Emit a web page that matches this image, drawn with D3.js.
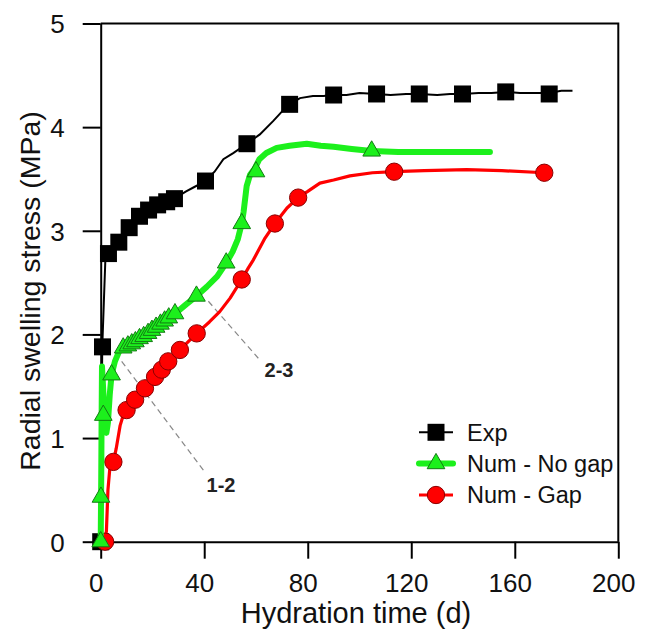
<!DOCTYPE html>
<html><head><meta charset="utf-8">
<script src="https://cdn.jsdelivr.net/npm/d3@7"></script>
<style>body{margin:0;background:#fff}svg{display:block}</style>
</head><body>
<svg id="c" width="650" height="633"></svg>
<script>
// ---- data ----
const xTicks = [0, 40, 80, 120, 160, 200];
const xMinorTicks = [20, 60, 100, 140, 180];
const yTicks = [0, 1, 2, 3, 4, 5];
const yMinorTicks = [0.5, 1.5, 2.5, 3.5, 4.5];
const seriesNames = ["Exp", "Num - No gap", "Num - Gap"];
const xTitle = "Hydration time (d)";
const yTitle = "Radial swelling stress (MPa)";

const expLine = [[0,0],[0.3,1.0],[0.6,1.88],[1.2,2.3],[1.8,2.72],[2.5,2.78],[4,2.81],[7,2.89],[11,3.03],[15,3.14],[18.5,3.2],[22,3.25],[25.5,3.28],[28.5,3.31],[33,3.38],[36,3.42],[40.5,3.48],[44,3.57],[47.4,3.69],[51.2,3.75],[56.5,3.84],[61.5,3.93],[66.7,4.06],[70,4.15],[73,4.22],[77,4.28],[82,4.30],[86,4.30],[90,4.31],[95,4.31],[100,4.33],[106.6,4.32],[112,4.31],[118,4.32],[123.1,4.32],[130,4.31],[135,4.32],[139.8,4.32],[146,4.33],[151,4.33],[156.5,4.34],[162,4.33],[168,4.33],[173.3,4.33],[178,4.35],[182.3,4.35]];
const expMarkers = [[0,0],[0.7,1.88],[3,2.78],[7,2.89],[11,3.03],[15,3.14],[18.5,3.2],[22,3.25],[25.5,3.28],[28.5,3.31],[40.5,3.48],[56.5,3.84],[73,4.22],[90,4.31],[106.6,4.32],[123.1,4.32],[139.8,4.32],[156.5,4.34],[173.3,4.32]];

const noGapLine = [[0,0],[0.2,0.6],[0.35,1.2],[0.5,1.69],[0.9,1.5],[1.5,1.2],[2.2,1.05],[2.8,1.15],[3.5,1.42],[4.2,1.61],[5.5,1.74],[7,1.83],[8.7,1.88],[11.7,1.91],[15,1.96],[18.3,2.01],[21.4,2.07],[24.7,2.13],[28.7,2.2],[33,2.29],[37,2.37],[41,2.46],[45,2.56],[48.5,2.69],[51,2.8],[53,2.92],[54.5,3.07],[55.2,3.18],[56.4,3.43],[57.7,3.54],[59.5,3.6],[61.3,3.69],[64,3.75],[68,3.8],[73,3.82],[79.6,3.84],[85,3.82],[90,3.81],[97,3.79],[104.7,3.77],[115,3.76],[130,3.76],[150.4,3.76]];
const noGapMarkers = [[0,0],[0.1,0.43],[1,1.22],[4.2,1.61],[8.7,1.87],[10.5,1.89],[12,1.91],[13.4,1.93],[15,1.96],[16.6,1.98],[18.3,2.01],[19.8,2.04],[21.4,2.07],[23.1,2.1],[24.7,2.13],[26.3,2.16],[28.7,2.2],[37,2.37],[48.5,2.69],[54.5,3.07],[60,3.57],[104.7,3.77]];

const gapLine = [[1.5,0],[2.2,0.1],[2.8,0.5],[3.5,0.7],[4.9,0.77],[6,0.9],[7.5,1.12],[8.7,1.22],[10,1.27],[13.3,1.37],[17.1,1.48],[21,1.59],[23.6,1.66],[26.1,1.74],[30.6,1.85],[37.1,2.01],[42,2.12],[46,2.22],[50,2.35],[54.5,2.53],[57,2.64],[59,2.72],[63.5,2.93],[67.3,3.07],[72,3.22],[76.3,3.32],[80,3.38],[84.7,3.46],[90,3.49],[96.3,3.53],[105,3.56],[113.4,3.57],[125,3.58],[141.4,3.59],[155,3.58],[171.4,3.56]];
const gapMarkers = [[1.7,0],[4.9,0.77],[10,1.27],[13.3,1.37],[17.1,1.48],[21,1.59],[23.6,1.66],[26.1,1.74],[30.6,1.85],[37.1,2.01],[54.5,2.53],[67.3,3.07],[76.3,3.32],[113.4,3.57],[171.4,3.56]];

const annotLabels = ["1-2", "2-3"];
const annotFrom = [[8.1,1.74],[41.6,2.32]];
const annotTo = [[40.6,0.66],[60.9,1.77]];
const annotAt = [[46.5,0.55],[68.9,1.66]];

// ---- chart ----
const svg = d3.select("#c");
const FONT = "'Liberation Sans', Arial, sans-serif";
const x = d3.scaleLinear().domain([0, 200]).range([100.7, 618.3]);
const y = d3.scaleLinear().domain([0, 5]).range([541.7, 23.5]);
const X0 = x.range()[0], X1 = x.range()[1], Y0 = y.range()[0], Y1 = y.range()[1];

const gx = svg.append("g").attr("transform", `translate(0,${Y0})`);
gx.call(d3.axisBottom(x).tickValues(xMinorTicks).tickSize(9).tickSizeOuter(0).tickFormat(""));
gx.call(d3.axisBottom(x).tickValues(xTicks).tickSize(17).tickSizeOuter(0).tickFormat(d3.format("d")));
gx.selectAll("text").attr("y", 50).attr("dy", null).attr("dx", -5)
  .style("font-family", FONT).style("font-size", "26px").attr("fill", "#111");

const gy = svg.append("g").attr("transform", `translate(${X0},0)`);
gy.call(d3.axisLeft(y).tickValues(yMinorTicks).tickSize(9).tickSizeOuter(0).tickFormat(""));
gy.call(d3.axisLeft(y).tickValues(yTicks).tickSize(18).tickSizeOuter(0).tickFormat(d3.format("d")));
gy.selectAll("text").attr("x", -36).attr("dy", "0.36em")
  .style("font-family", FONT).style("font-size", "26px").attr("fill", "#111");

svg.selectAll(".domain, .tick line").attr("stroke", "#000").attr("stroke-width", 2);

// frame top & right
svg.append("path").attr("d", `M${X0},${Y1}H${X1}V${Y0}`).attr("fill", "none")
  .attr("stroke", "#000").attr("stroke-width", 2);

// titles
svg.append("text").attr("x", 356).attr("y", 623).attr("text-anchor", "middle")
  .style("font-family", FONT).style("font-size", "29px").attr("fill", "#111").text(xTitle);
svg.append("text").attr("transform", "translate(40,291) rotate(-90)").attr("text-anchor", "middle")
  .style("font-family", FONT).style("font-size", "28.5px").attr("fill", "#111").text(yTitle);

// annotations
annotLabels.forEach((lab, i) => {
  svg.append("line")
    .attr("x1", x(annotFrom[i][0])).attr("y1", y(annotFrom[i][1]))
    .attr("x2", x(annotTo[i][0])).attr("y2", y(annotTo[i][1]))
    .attr("stroke", "#888").attr("stroke-width", 1.2).attr("stroke-dasharray", "6,4");
  svg.append("text").attr("x", x(annotAt[i][0])).attr("y", y(annotAt[i][1]))
    .attr("text-anchor", "middle").attr("dy", "0.36em")
    .style("font-family", FONT).style("font-size", "20px").style("font-weight", "bold")
    .attr("fill", "#222").text(lab);
});

const lineLin = d3.line().x(d => x(d[0])).y(d => y(d[1]));

const sq = d3.symbol().type(d3.symbolSquare).size(289);
const tri = d3.symbol().type(d3.symbolTriangle).size(135);
const cir = d3.symbol().type(d3.symbolCircle).size(236);

const GREEN = "#1cf01c";

// Exp
svg.append("path").attr("d", lineLin(expLine)).attr("fill", "none").attr("stroke", "#000").attr("stroke-width", 2);
svg.selectAll(".sq").data(expMarkers).join("path").attr("class", "sq")
  .attr("transform", d => `translate(${x(d[0])},${y(d[1])})`).attr("d", sq).attr("fill", "#000");

// Gap (red)
svg.append("path").attr("d", lineLin(gapLine)).attr("fill", "none").attr("stroke", "#ff0000")
  .attr("stroke-width", 3.2).attr("stroke-linejoin", "round");
svg.selectAll(".ci").data(gapMarkers).join("path").attr("class", "ci")
  .attr("transform", d => `translate(${x(d[0])},${y(d[1])})`).attr("d", cir)
  .attr("fill", "#ff0000").attr("stroke", "#8a0000").attr("stroke-width", 1);

// No gap (green)
svg.append("path").attr("d", lineLin(noGapLine)).attr("fill", "none").attr("stroke", GREEN)
  .attr("stroke-width", 6).attr("stroke-linejoin", "round").attr("stroke-linecap", "round");
svg.selectAll(".tr").data(noGapMarkers).join("path").attr("class", "tr")
  .attr("transform", d => `translate(${x(d[0])},${y(d[1])})`).attr("d", tri)
  .attr("fill", GREEN).attr("stroke", "#137a13").attr("stroke-width", 1);

// legend
const lg = svg.append("g");
const rowsY = [432.3, 463.6, 495];
const styles = [
  {stroke: "#000", w: 2, sym: sq, fill: "#000", sstroke: "none"},
  {stroke: GREEN, w: 6, sym: tri, fill: GREEN, sstroke: "#137a13"},
  {stroke: "#ff0000", w: 3.2, sym: cir, fill: "#ff0000", sstroke: "#8a0000"}
];
seriesNames.forEach((n, i) => {
  const st = styles[i];
  lg.append("line").attr("x1", 419).attr("x2", 453).attr("y1", rowsY[i]).attr("y2", rowsY[i])
    .attr("stroke", st.stroke).attr("stroke-width", st.w).attr("stroke-linecap", i === 1 ? "round" : "butt");
  lg.append("path").attr("transform", `translate(436,${rowsY[i]})`).attr("d", st.sym)
    .attr("fill", st.fill).attr("stroke", st.sstroke).attr("stroke-width", 1);
  lg.append("text").attr("x", 467).attr("y", rowsY[i]).attr("dy", "0.36em")
    .style("font-family", FONT).style("font-size", "23.5px").attr("fill", "#111").text(n);
});
</script>
</body></html>
